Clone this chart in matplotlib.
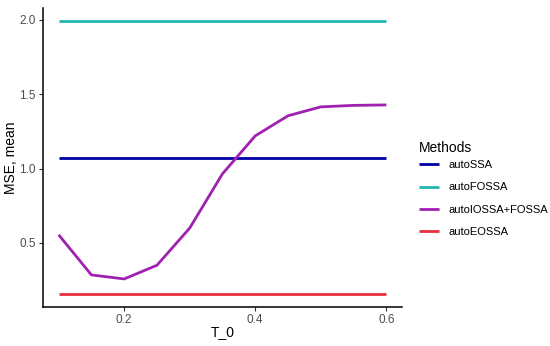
import numpy as np
import matplotlib.pyplot as plt

# data
t0 = [0.1, 0.15, 0.2, 0.25, 0.3, 0.35, 0.4, 0.45, 0.5, 0.55, 0.6]
auto_ssa = [1.07] * len(t0)
auto_fossa = [1.99] * len(t0)
auto_iossa_fossa = [0.555, 0.285, 0.258, 0.35, 0.60, 0.965, 1.22, 1.355, 1.415, 1.425, 1.428]
auto_eossa = [0.157] * len(t0)

methods = ["autoSSA", "autoFOSSA", "autoIOSSA+FOSSA", "autoEOSSA"]
colors = ["#0000A8", "#22B5B0", "#A020B0", "#E8303C"]
series = [auto_ssa, auto_fossa, auto_iossa_fossa, auto_eossa]

plt.rcParams['font.family'] = ['Liberation Sans', 'DejaVu Sans']

fig = plt.figure(figsize=(5.5, 3.46), dpi=100)
ax = fig.add_axes([0.078, 0.113, 0.653, 0.864])

for name, col, vals in zip(methods, colors, series):
    ax.plot(t0, vals, color=col, lw=2, label=name, solid_capstyle='butt')

ax.set_xlim(0.076, 0.624)
ax.set_ylim(0.07, 2.08)
ax.set_xticks([0.2, 0.4, 0.6])
ax.set_yticks([0.5, 1.0, 1.5, 2.0])
ax.set_xticklabels(["0.2", "0.4", "0.6"])
ax.set_yticklabels(["0.5", "1.0", "1.5", "2.0"])
ax.tick_params(colors="#333333", labelcolor="#4d4d4d", labelsize=8.5,
               length=3, width=0.8, pad=2)
for s in ["top", "right"]:
    ax.spines[s].set_visible(False)
for s in ["left", "bottom"]:
    ax.spines[s].set_linewidth(1.1)
ax.set_xlabel("T_0", fontsize=10)
ax.xaxis.set_label_coords(0.5, -0.062)
ax.set_ylabel("MSE, mean", fontsize=10)
ax.yaxis.set_label_coords(-0.068, 0.5)

leg = ax.legend(title="Methods", loc="center left", bbox_to_anchor=(1.02, 0.395),
                frameon=False, fontsize=8, title_fontsize=10, handlelength=1.8,
                labelspacing=1.1, alignment="left")
leg._legend_box.sep = 4

fig.savefig("out.png", dpi=100)
